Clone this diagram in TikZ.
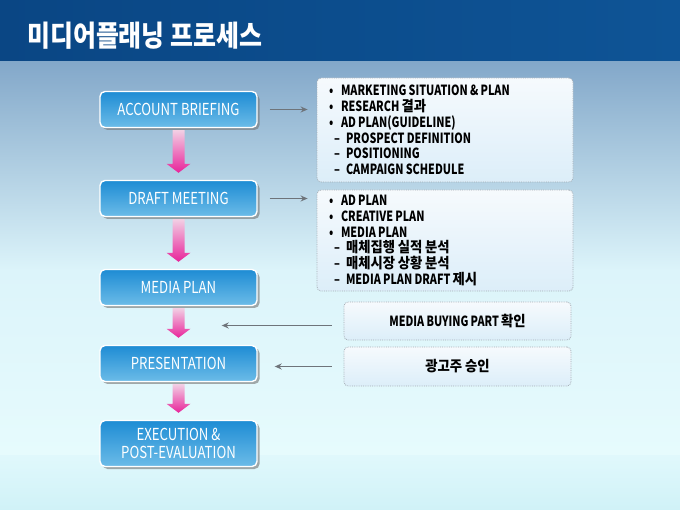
\documentclass[tikz,border=0pt]{standalone}
\usepackage{fontspec}
\setmainfont{Noto Sans CJK KR}[FakeStretch=0.8]
\newfontfamily\notefont{Noto Sans CJK KR}[FakeStretch=0.77, WordSpace=0.9]
\newfontfamily\krfont{Noto Sans CJK KR}[FakeStretch=0.92, WordSpace=0.9]
\newfontfamily\titlefont{Noto Sans CJK KR}[FakeStretch=0.86]
\usetikzlibrary{shadows,arrows.meta,calc}

\definecolor{barleft}{HTML}{0A4684}
\definecolor{barright}{HTML}{0E5496}
\definecolor{skytop}{HTML}{82A7C9}
\definecolor{skymid}{HTML}{DCF4FA}
\definecolor{skylow}{HTML}{E6FBFD}
\definecolor{floortop}{HTML}{E0F8FC}
\definecolor{floorbot}{HTML}{D0F2F7}
\definecolor{stagetop}{HTML}{1E8CD4}
\definecolor{stagebot}{HTML}{6CBCE8}
\definecolor{notetop}{HTML}{F6FAFD}
\definecolor{notebot}{HTML}{DCEEF9}
\definecolor{notegray}{HTML}{A4ACB4}
\definecolor{pinktop}{HTML}{F2CFE4}
\definecolor{pinkbot}{HTML}{E8249A}
\definecolor{arrowgray}{HTML}{6E747A}

\newcommand{\bulletline}[1]{\makebox[232pt][l]{\makebox[12pt][l]{•}#1}}
\newcommand{\dashline}[1]{\makebox[232pt][l]{\hspace*{5pt}\makebox[12pt][l]{–}#1}}
\newcommand{\kr}[1]{{\krfont\bfseries\fontsize{14.5}{15.8}\selectfont #1}}

\begin{document}
\begin{tikzpicture}[x=1pt,y=-1pt]
    % Define styles for stages, notes and arrows
    \tikzstyle{stage}=[rectangle, rounded corners=5pt, draw=white, line width=1.4pt, top color=stagetop, bottom color=stagebot, minimum width=157pt, minimum height=36pt, align=center, text=white, font=\fontsize{16.5}{19}\selectfont, drop shadow={shadow xshift=2.5pt, shadow yshift=-2.5pt, fill=black!55, opacity=0.6}]
    \tikzstyle{note}=[rectangle, rounded corners=4pt, draw=notegray, densely dotted, line width=0.8pt, top color=notetop, bottom color=notebot, font=\notefont\bfseries\fontsize{14}{15.8}\selectfont, text=black]
    \tikzstyle{flowarrow}=[top color=pinktop, bottom color=pinkbot]
    \tikzstyle{linkarrow}=[draw=arrowgray, line width=1.2pt, -{Stealth[length=7pt,width=6pt]}]

    \useasboundingbox (0,0) rectangle (680,510);

    % Background
    \shade[top color=skytop, bottom color=skymid] (0,60) rectangle (680,270);
    \shade[top color=skymid, bottom color=skylow] (0,270) rectangle (680,455);
    \shade[top color=floortop, bottom color=floorbot] (0,455) rectangle (680,510);
    \shade[left color=barleft, right color=barright] (0,0) rectangle (680,61);

    % Title
    \node[anchor=west, inner sep=0pt, text=white, font=\titlefont\bfseries\fontsize{29}{32}\selectfont] (title) at (27,36) {미디어플래닝 프로세스};

    % Stages
    \node[stage] (ab) at (178.5,109.5) {ACCOUNT BRIEFING};
    \node[stage] (dm) at (178.5,198.5) {DRAFT MEETING};
    \node[stage] (mp) at (178.5,287.5) {MEDIA PLAN};
    \node[stage] (pr) at (178.5,363.5) {PRESENTATION};
    \node[stage, minimum height=46pt, font=\fontsize{16.5}{18.5}\selectfont] (ex) at (178.5,443.5) {EXECUTION \&\\POST-EVALUATION};

    % Notes
    \node[note, minimum width=256pt, minimum height=104pt, inner xsep=12pt, align=left] (n1) at (445,130) {%
      \bulletline{MARKETING SITUATION \& PLAN}\\
      \bulletline{RESEARCH \kr{결과}}\\
      \bulletline{AD PLAN(GUIDELINE)}\\
      \dashline{PROSPECT DEFINITION}\\
      \dashline{POSITIONING}\\
      \dashline{CAMPAIGN SCHEDULE}};
    \node[note, minimum width=256pt, minimum height=101pt, inner xsep=12pt, align=left] (n2) at (445,240.5) {%
      \bulletline{AD PLAN}\\
      \bulletline{CREATIVE PLAN}\\
      \bulletline{MEDIA PLAN}\\
      \dashline{\kr{매체집행 실적 분석}}\\
      \dashline{\kr{매체시장 상황 분석}}\\
      \dashline{MEDIA PLAN DRAFT \kr{제시}}};
    \node[note, minimum width=227pt, minimum height=38pt] (n3) at (457.5,321) {MEDIA BUYING PART \kr{확인}};
    \node[note, minimum width=227pt, minimum height=39pt] (n4) at (457.5,366.5) {\kr{광고주 승인}};

    % Flow arrows between stages
    \shade[flowarrow] ([xshift=-6pt,yshift=-2pt]ab.south) -- ([xshift=-6pt,yshift=16pt]dm.north) -- ([xshift=-12pt,yshift=16pt]dm.north) -- ([yshift=7pt]dm.north) -- ([xshift=12pt,yshift=16pt]dm.north) -- ([xshift=6pt,yshift=16pt]dm.north) -- ([xshift=6pt,yshift=-2pt]ab.south) -- cycle;
    \shade[flowarrow] ([xshift=-6pt,yshift=-2pt]dm.south) -- ([xshift=-6pt,yshift=16pt]mp.north) -- ([xshift=-12pt,yshift=16pt]mp.north) -- ([yshift=7pt]mp.north) -- ([xshift=12pt,yshift=16pt]mp.north) -- ([xshift=6pt,yshift=16pt]mp.north) -- ([xshift=6pt,yshift=-2pt]dm.south) -- cycle;
    \shade[flowarrow] ([xshift=-6pt,yshift=-2pt]mp.south) -- ([xshift=-6pt,yshift=16pt]pr.north) -- ([xshift=-12pt,yshift=16pt]pr.north) -- ([yshift=7pt]pr.north) -- ([xshift=12pt,yshift=16pt]pr.north) -- ([xshift=6pt,yshift=16pt]pr.north) -- ([xshift=6pt,yshift=-2pt]mp.south) -- cycle;
    \shade[flowarrow] ([xshift=-6pt,yshift=-2pt]pr.south) -- ([xshift=-6pt,yshift=16pt]ex.north) -- ([xshift=-12pt,yshift=16pt]ex.north) -- ([yshift=7pt]ex.north) -- ([xshift=12pt,yshift=16pt]ex.north) -- ([xshift=6pt,yshift=16pt]ex.north) -- ([xshift=6pt,yshift=-2pt]pr.south) -- cycle;

    % Links between stages and notes
    \coordinate (gap) at ($(mp.east)!0.5!(pr.east)$);
    \draw[linkarrow] ([xshift=12pt]ab.east) -- ([xshift=-9pt]ab.east -| n1.west);
    \draw[linkarrow] ([xshift=12pt]dm.east) -- ([xshift=-9pt]dm.east -| n2.west);
    \draw[linkarrow] ([xshift=-12pt]gap -| n3.west) -- ([xshift=-36pt]gap);
    \draw[linkarrow] ([xshift=-12pt]n4.west) -- ([xshift=17pt]n4.west -| pr.east);

\end{tikzpicture}
\end{document}
